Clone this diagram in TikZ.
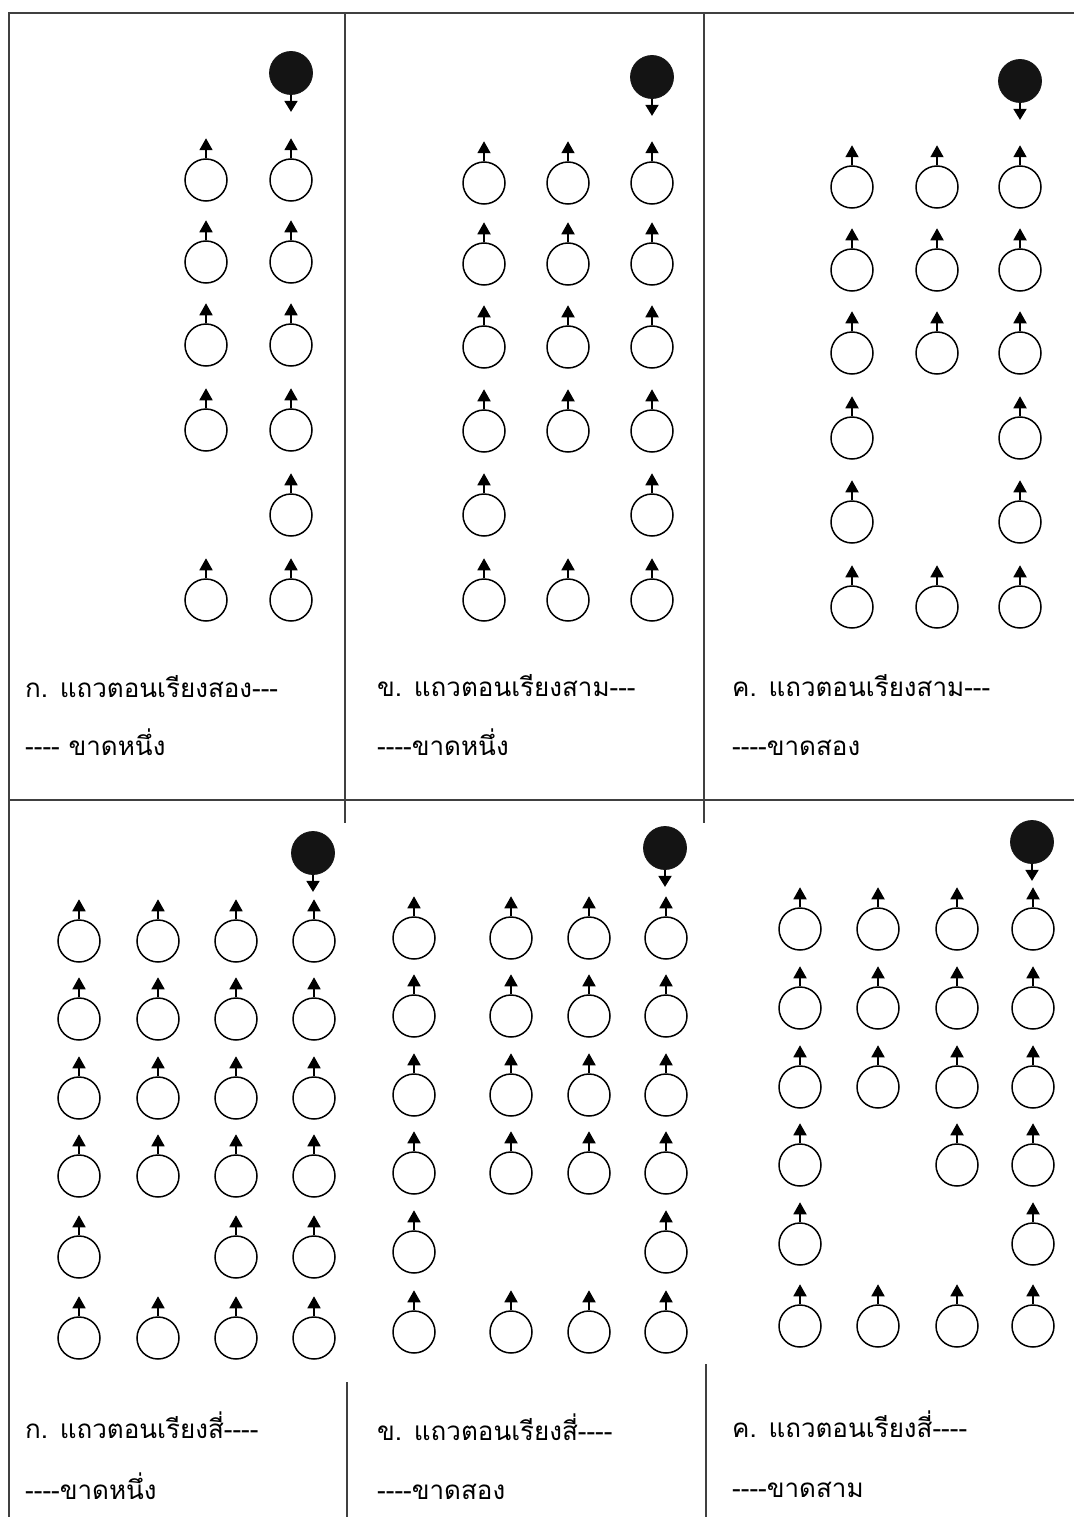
\documentclass[tikz,border=0pt]{standalone}
\usepackage{fontspec}
\usetikzlibrary{arrows.meta}
\newfontfamily\thaifont[Script=Thai]{Loma}

\tikzset{
  spin/.style={circle, draw=black, line width=1.5pt, minimum size=42pt, inner sep=0pt},
  topspin/.style={circle, fill=black!92, draw=black!92, line width=0.8pt, minimum size=43pt, inner sep=0pt},
  uparrow/.style={line width=1.8pt, -{Triangle[width=13pt,length=12pt]}},
  downarrow/.style={line width=1.8pt, -{Triangle[width=13pt,length=11pt]}},
  frame/.style={draw=black!75, line width=1.4pt},
  caption/.style={anchor=base west, inner sep=0pt, font=\thaifont\fontsize{26}{30}\selectfont}
}
% one electron drawn as a ring with its spin arrow on top
\newcommand\upspin[2]{%
  \node[spin] (#1) at (#2) {};
  \draw[uparrow] (#1.north) -- ++(0,-20);}
% the lone electron, filled, spin pointing down
\newcommand\downspin[2]{%
  \node[topspin] (#1) at (#2) {};
  \draw[downarrow] (#1.south) -- ++(0,17);}

\begin{document}
\begin{tikzpicture}[x=1pt, y=-1pt]
\useasboundingbox (0,0) rectangle (1074,1517);

% ---------- frame lines ----------
\coordinate (tl) at (9,13);
\coordinate (tr) at (1074,13);
\coordinate (bl) at (9,1517);
\coordinate (ml) at (9,800);
\coordinate (mr) at (1074,800);
\draw[frame] (tr) -- (tl) -- (bl);
\draw[frame] (ml) -- (mr);
\coordinate (v1a) at (345,13);  \coordinate (v1b) at (345,823);
\coordinate (v2a) at (704,13);  \coordinate (v2b) at (704,823);
\draw[frame] (v1a) -- (v1b);
\draw[frame] (v2a) -- (v2b);
\coordinate (v3a) at (347,1382); \coordinate (v3b) at (347,1517);
\coordinate (v4a) at (706,1364); \coordinate (v4b) at (706,1517);
\draw[frame] (v3a) -- (v3b);
\draw[frame] (v4a) -- (v4b);

% ---------- panel a: two columns, one missing ----------
\downspin{a-top}{291,73}
\foreach \x/\rows in {206/{180,262,345,430,600}, 291/{180,262,345,430,515,600}}
  \foreach \y in \rows { \upspin{a-\x-\y}{\x,\y} }
\node[caption] (a-l1) at (25,697) {ก. แถวตอนเรียงสอง---};
\node[caption] (a-l2) at (25,755) {---- ขาดหนึ่ง};

% ---------- panel b: three columns, one missing ----------
\downspin{b-top}{652,77}
\foreach \x/\rows in {484/{183,264,347,431,515,600}, 568/{183,264,347,431,600}, 652/{183,264,347,431,515,600}}
  \foreach \y in \rows { \upspin{b-\x-\y}{\x,\y} }
\node[caption] (b-l1) at (377,696) {ข. แถวตอนเรียงสาม---};
\node[caption] (b-l2) at (377,755) {----ขาดหนึ่ง};

% ---------- panel c: three columns, two missing ----------
\downspin{c-top}{1020,81}
\foreach \x/\rows in {852/{187,270,353,438,522,607}, 937/{187,270,353,607}, 1020/{187,270,353,438,522,607}}
  \foreach \y in \rows { \upspin{c-\x-\y}{\x,\y} }
\node[caption] (c-l1) at (732,696) {ค. แถวตอนเรียงสาม---};
\node[caption] (c-l2) at (732,755) {----ขาดสอง};

% ---------- panel d: four columns, one missing ----------
\downspin{d-top}{313,853}
\foreach \x/\rows in {79/{941,1019,1098,1176,1257,1338}, 158/{941,1019,1098,1176,1338}, 236/{941,1019,1098,1176,1257,1338}, 314/{941,1019,1098,1176,1257,1338}}
  \foreach \y in \rows { \upspin{d-\x-\y}{\x,\y} }
\node[caption] (d-l1) at (25,1438) {ก. แถวตอนเรียงสี่----};
\node[caption] (d-l2) at (25,1499) {----ขาดหนึ่ง};

% ---------- panel e: four columns, two missing ----------
\downspin{e-top}{665,848}
\foreach \x/\rows in {414/{938,1016,1095,1173,1252,1332}, 511/{938,1016,1095,1173,1332}, 589/{938,1016,1095,1173,1332}, 666/{938,1016,1095,1173,1252,1332}}
  \foreach \y in \rows { \upspin{e-\x-\y}{\x,\y} }
\node[caption] (e-l1) at (377,1440) {ข. แถวตอนเรียงสี่----};
\node[caption] (e-l2) at (377,1499) {----ขาดสอง};

% ---------- panel f: four columns, three missing ----------
\downspin{f-top}{1032,842}
\foreach \x/\rows in {800/{929,1008,1087,1165,1244,1326}, 878/{929,1008,1087,1326}, 957/{929,1008,1087,1165,1326}, 1033/{929,1008,1087,1165,1244,1326}}
  \foreach \y in \rows { \upspin{f-\x-\y}{\x,\y} }
\node[caption] (f-l1) at (732,1437) {ค. แถวตอนเรียงสี่----};
\node[caption] (f-l2) at (732,1497) {----ขาดสาม};
\end{tikzpicture}
\end{document}
